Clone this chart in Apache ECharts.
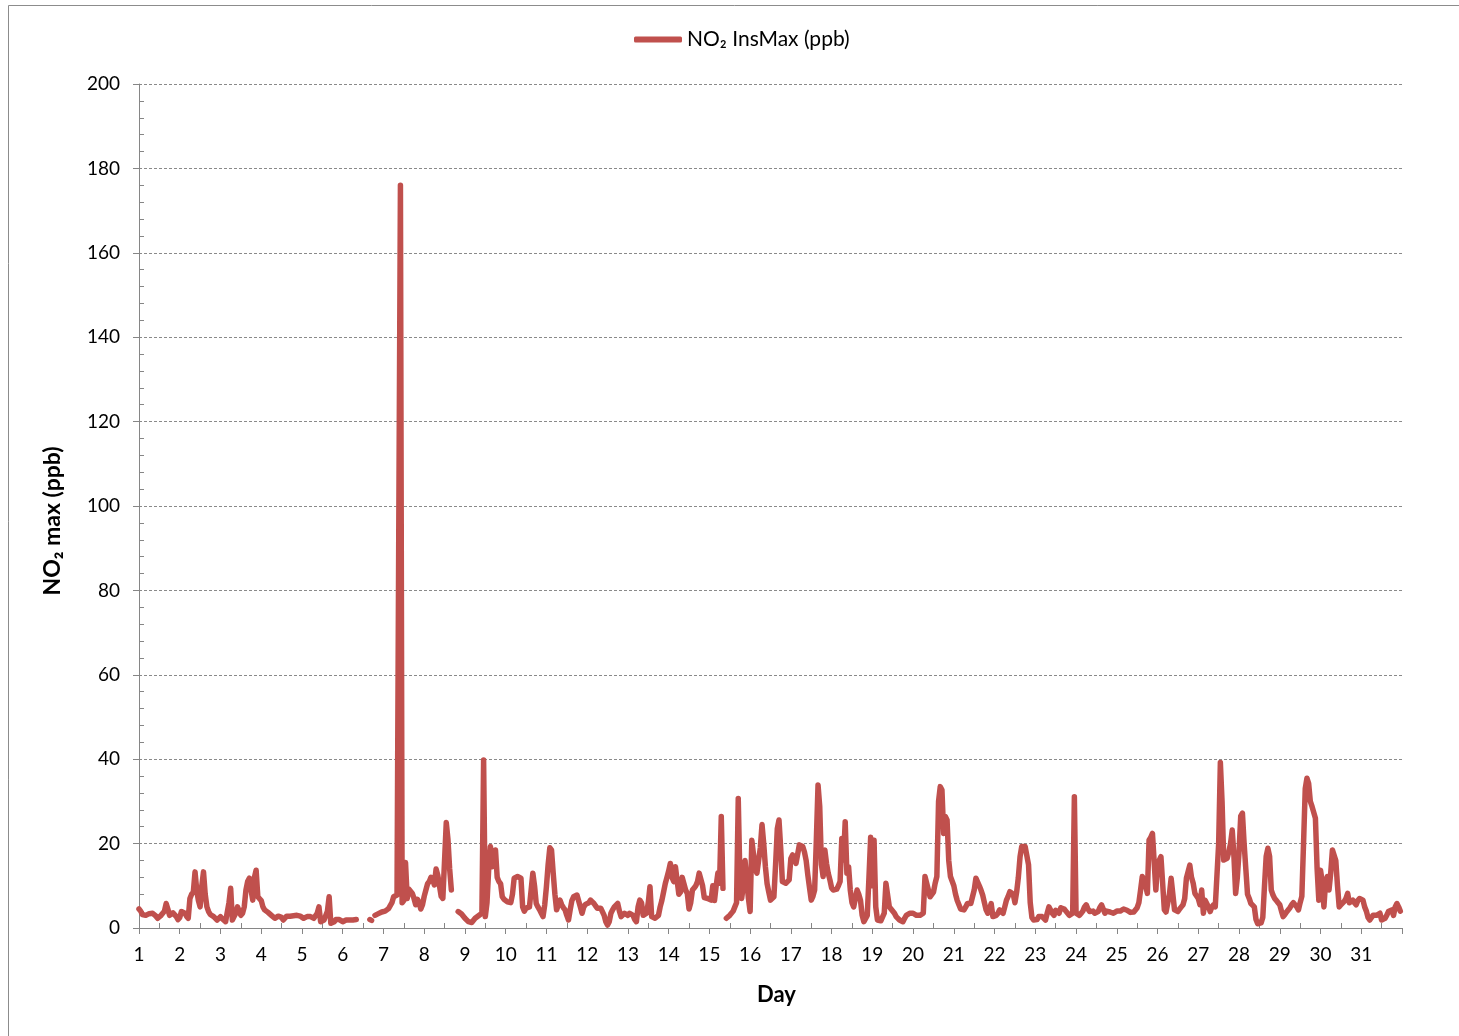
<!DOCTYPE html>
<html><head><meta charset="utf-8">
<script src="https://cdn.jsdelivr.net/npm/echarts@6/dist/echarts.min.js"></script>
<style>html,body{margin:0;padding:0;background:#fff}#c{width:1459px;height:1036px}</style>
</head><body><div id="c"></div><script>
// Hourly NO2 instantaneous max (ppb), one array of 24 hourly values per day; null = missing
const days = [1,2,3,4,5,6,7,8,9,10,11,12,13,14,15,16,17,18,19,20,21,22,23,24,25,26,27,28,29,30,31];
const d01 = [4.5,4,3.2,3,3,3.2,3.4,3.6,3.5,3.3,2.8,2.3,2.6,3,3.2,4,5.8,4.5,3,3.2,3.6,3.2,2.7,2];
const d02 = [2.5,3.9,3.7,3.5,2.8,2.3,7,8,8.5,13.3,9,6.5,5,10,13.3,8,5,3.9,3.2,2.8,2.7,2.3,1.9,2.3];
const d03 = [2.7,2.2,1.9,1.5,1.7,6,9.4,1.9,2.7,3.5,5,4,3,3.5,5,9,11,11.8,9,6.6,12,13.7,7.4,7.4];
const d04 = [6.5,5,4.3,4,3.7,3.5,3,2.6,2.3,2.6,2.8,3,2.5,1.9,2.3,2.8,2.8,2.8,2.8,2.9,3,3,3,2.8];
const d05 = [2.5,2.3,2.5,2.7,2.7,2.7,2.7,2.3,1.9,3.5,5,1.5,1.7,1.9,1.9,4,7.4,1.1,1.4,1.5,2,2.3,2,1.6];
const d06 = [1.5,1.7,1.9,1.9,1.9,1.9,1.9,2,2,null,null,null,null,null,null,null,2,1.8,null,3,3.2,3.4,3.5,3.8];
const d07 = [3.9,4,4.3,4.6,5,6,7.4,7.6,7.8,8,176,6,6.5,15.5,7,9.2,9,8.2,7,5.5,6.8,6,4.5,5.5];
const d08 = [7.5,9,10.5,11,12,11.5,10.2,14,12.5,10,7.5,7,6.6,25,21,14,9,null,null,null,3.9,3.6,3.3,3];
const d09 = [2.3,1.9,1.5,1.1,1.3,1.6,2.3,2.7,2.9,3,3.5,39.8,2.7,6,14,19.3,14.5,16,18.5,12,11,10.5,7.4,6.8];
const d10 = [6.6,6.2,5.8,6,8,11.8,12,12.2,12,11.8,5,4,4.7,5,5,9,13,10,5.8,5,4.3,3.5,2.7,5.5];
const d11 = [9.8,15,19,18.5,13,8,4.3,5.5,6.6,5.5,4.8,4.3,3,1.9,4.3,6.5,7.4,7.6,7.8,7.6,5,3.5,5,5.6];
const d12 = [5.5,6,6.6,6.2,5.8,5.2,4.7,4.7,4.7,4.3,3,1.5,0.7,1.5,3.5,4.3,5,5.4,5.8,4,2.7,3,3.5,3.2];
const d13 = [3,3.5,3.9,3,2,1.5,5,6.6,6,3,3.3,3.5,6,9.8,2.7,2.5,2.3,2.5,3,5,6.5,8.5,10.5,12];
const d14 = [13.5,15.3,12,11,14.5,14.9,8,8.5,12,10.5,9,8.2,4.5,6,9,9.5,10,11,13,12.6,10,7.2,7,7];
const d15 = [7,6.6,10,6.5,10,13,10.6,26.4,9.4,null,2.3,2.5,3,3.2,4,5,6,30.7,11.4,7,10,16,11.4,7];
const d16 = [3.9,20.8,20.8,14,13,13,19,24.5,20,14.5,10.5,8.5,6.6,7,7.4,15,23.5,25.6,19,11,10.6,10.6,11,11.4];
const d17 = [16.5,17.3,16.5,15.3,17.5,19.7,19.5,19.3,18,16,12.5,9.5,6.6,7.5,9,20.8,33.9,28.8,15,12.2,18.5,15.3,13,11.4];
const d18 = [9.5,9,9,9.2,10,11,21.2,16.1,25.2,13,14.5,9,6,5,7,9,8,6.6,3,1.5,1.1,3,12,21.5];
const d19 = [10,20.8,5,1.9,1.5,1.7,1.9,3.5,10.6,11,5,4.5,4.3,3.5,2.7,2.3,1.9,1.7,1.5,2.3,3,3.3,3.5,3.5];
const d20 = [3.5,3.2,3,3,3,3.2,3.5,12.2,11.8,9,7.4,7.4,8.5,10.6,12.2,30,33.5,32.7,22.4,26.4,25.6,16,12.2,11.8];
const d21 = [10,8,6.5,5.5,4.5,4.3,4.3,5,5.8,5.8,5.8,5.8,9,11.8,11.4,10,9,7.8,6,4.3,3.5,4.5,5.8,2.7];
const d22 = [2.8,3,3.5,4.3,4,3.5,5,6.6,7.5,8.6,9,8,6,8.5,12,16.9,19.3,19.5,19.3,19.5,15,6,2.5,1.9];
const d23 = [1.5,2,2.7,2.7,2.7,2.3,1.9,3.5,5,4.7,3.5,3,4.2,4,3.5,4.8,4.7,4.5,4,3.6,3,3.2,3.5,31.1];
const d24 = [3.5,3.2,3,3.5,4,5,5.5,4.5,3.9,4.3,4,3.5,3.7,3.9,4.8,5.5,4.5,3.5,4,4.3,3.8,3.5,3.5,3.5];
const d25 = [4,4.3,4,3.9,4.5,4.7,4.2,3.9,3.7,3.5,3.8,4.2,4.8,6,9,12.2,11.4,10,8.2,20.8,21.5,22.4,22.5,9];
const d26 = [15.3,16,16.9,17.3,4.3,3.8,3.5,8,11.8,11.4,4.3,4,3.9,4.5,5,5.5,7,11.8,12.2,14.9,12,10.6,8.2,7.6];
const d27 = [7,5.5,9,3.5,6.6,6.6,5,3.9,5,5.5,5,4.7,20,39.2,30,16.1,16.1,16.5,18.1,20,23.2,17,8.2,12];
const d28 = [18,26.5,27.2,20,14,8,7,5.8,5.5,5,2,1,0.8,1.2,2.5,10,17,18.9,17,9,7.8,7,6.5,6];
const d29 = [5.5,4,2.7,3.2,3.8,4.2,4.8,5.5,6,6.2,5,4.3,6,7.5,20,33,35.5,34.3,30,28.8,29.1,26,14,6.6];
const d30 = [13.7,11,5,11,12.2,9,13,18.5,18.1,16,10,5,5.5,5.8,6.3,7,8.2,6,6.3,6.6,6,5.5,6.5,7];
const d31 = [6.8,6.6,5,4,2.5,1.9,2.5,3,3,3,3.2,3.5,1.9,2,2.3,3,3.9,4.2,4.3,3,5,5.8,5,4];
const yTicks = [0,20,40,60,80,100,120,140,160,180,200];
const seriesName = 'NO\u2082 InsMax (ppb)';

const dayValues = [d01,d02,d03,d04,d05,d06,d07,d08,d09,d10,d11,d12,d13,d14,d15,d16,d17,d18,d19,d20,d21,d22,d23,d24,d25,d26,d27,d28,d29,d30,d31];
const seriesData = [];
dayValues.forEach((arr, i) => arr.forEach((v, h) => seriesData.push([days[i] + h / 24, v === null ? '-' : v])));

const FONT = 'Lato';
const AXIS_COLOR = '#868686';
const chart = echarts.init(document.getElementById('c'), null, {renderer: 'canvas'});
chart.setOption({
  animation: false,
  backgroundColor: '#fff',
  graphic: [{type: 'rect', shape: {x: 8.5, y: 5.5, width: 1480, height: 1060}, style: {fill: 'none', stroke: '#8c8c8c', lineWidth: 1}, silent: true}],
  legend: {
    left: 629, top: 24, itemWidth: 48, itemHeight: 6, itemGap: 10,
    data: [{name: seriesName, icon: 'roundRect'}],
    textStyle: {fontFamily: FONT, fontSize: 21, color: '#000'}
  },
  grid: {left: 139, right: 57, top: 84, bottom: 108, containLabel: false},
  xAxis: [{
    type: 'value', min: 1, max: 32, interval: 1,
    name: 'Day', nameLocation: 'middle', nameGap: 56,
    nameTextStyle: {fontFamily: FONT, fontSize: 22, fontWeight: 'bold', color: '#000', padding: [0, 0, 0, 12]},
    axisLine: {show: true, lineStyle: {color: AXIS_COLOR, width: 1}},
    axisTick: {show: true, inside: false, length: 6, lineStyle: {color: AXIS_COLOR}},
    axisLabel: {fontFamily: FONT, fontSize: 19, color: '#000', margin: 17, formatter: v => (v >= 32 ? '' : String(v))},
    splitLine: {show: false}
  }, {
    type: 'value', min: 1, max: 32, interval: 1, position: 'bottom', gridIndex: 0,
    axisLine: {show: false},
    axisTick: {show: false, inside: true},
    minorTick: {show: true, splitNumber: 2, length: 5, lineStyle: {color: AXIS_COLOR}},
    axisLabel: {show: false}, splitLine: {show: false}, minorSplitLine: {show: false}
  }],
  yAxis: [{
    type: 'value', min: yTicks[0], max: yTicks[yTicks.length - 1], interval: 20,
    name: 'NO\u2082 max (ppb)', nameLocation: 'middle', nameGap: 75,
    nameTextStyle: {fontFamily: FONT, fontSize: 23, fontWeight: 'bold', color: '#000', padding: [0, 30, 0, 0]},
    axisLine: {show: true, lineStyle: {color: AXIS_COLOR, width: 1}},
    axisTick: {show: true, inside: false, length: 6, lineStyle: {color: AXIS_COLOR}},
    axisLabel: {fontFamily: FONT, fontSize: 19, color: '#000', margin: 19},
    splitLine: {show: true, lineStyle: {color: '#8a8a8a', type: [3, 2], width: 1}}
  }, {
    type: 'value', min: yTicks[0], max: yTicks[yTicks.length - 1], interval: 20, position: 'left', gridIndex: 0,
    axisLine: {show: false},
    axisTick: {show: false, inside: true},
    minorTick: {show: true, splitNumber: 5, length: 5, lineStyle: {color: AXIS_COLOR}},
    axisLabel: {show: false}, splitLine: {show: false}, minorSplitLine: {show: false}
  }],
  series: [{
    name: seriesName, type: 'line', xAxisIndex: 0, yAxisIndex: 0,
    data: seriesData, showSymbol: false, symbol: 'none', connectNulls: false,
    itemStyle: {color: '#C0504D'},
    lineStyle: {color: '#C0504D', width: 5.5, cap: 'round', join: 'round'}
  }]
});
</script></body></html>
